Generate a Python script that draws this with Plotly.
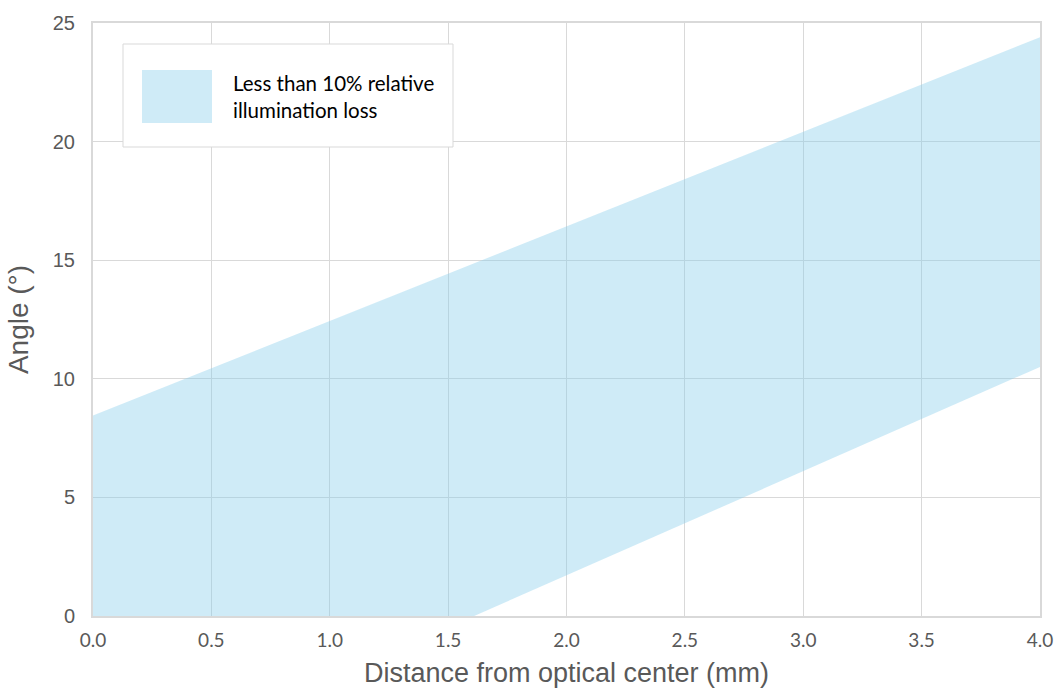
import plotly.graph_objects as go

# Band boundary (distance mm, angle deg), traced as a closed polygon
band_x = [0.0, 0.0, 4.0, 4.0, 1.61]
band_y = [0.0, 8.45, 24.4, 10.5, 0.0]
legend_label = "Less than 10% relative<br>illumination loss"

x_ticks = [0.0, 0.5, 1.0, 1.5, 2.0, 2.5, 3.0, 3.5, 4.0]
y_ticks = [0, 5, 10, 15, 20, 25]

fill_color = "rgba(135,206,235,0.4)"
grid_color = "#d9d9d9"

W, H = 1057, 688
pl, pt, pr, pb = 93, 23, 1057 - 1040, 688 - 616

fig = go.Figure()
fig.add_trace(go.Scatter(
    x=band_x, y=band_y, fill="toself", fillcolor=fill_color,
    mode="lines", line=dict(width=0), showlegend=False, hoverinfo="skip",
))

fig.update_layout(
    width=W, height=H,
    margin=dict(l=pl, r=pr, t=pt, b=pb),
    paper_bgcolor="white", plot_bgcolor="white",
    showlegend=False,
    xaxis=dict(
        range=[0, 4], tickvals=x_ticks, ticktext=[f"{v:.1f}" for v in x_ticks],
        showgrid=True, gridcolor=grid_color, gridwidth=1,
        showline=True, linecolor=grid_color, linewidth=2, mirror=True,
        zeroline=False, ticks="", ticklabelstandoff=6, automargin=False,
        tickfont=dict(family="Lato, Open Sans, sans-serif", size=19, color="#595959"),
        title=dict(text="Distance from optical center (mm)", standoff=33,
                   font=dict(family="Liberation Sans, Arial, sans-serif", size=27, color="#595959")),
    ),
    yaxis=dict(
        range=[0, 25], tickvals=y_ticks,
        showgrid=True, gridcolor=grid_color, gridwidth=1,
        showline=True, linecolor=grid_color, linewidth=2, mirror=True,
        zeroline=False, ticks="", ticklabelstandoff=12, automargin=False,
        tickfont=dict(family="Liberation Sans, Arial, sans-serif", size=20, color="#595959"),
        title=dict(text="Angle (°)", standoff=16,
                   font=dict(family="Liberation Sans, Arial, sans-serif", size=28, color="#595959")),
    ),
)

# Custom legend box (pixel -> paper conversions)
pw, ph = W - pl - pr, H - pt - pb
def px(xs):
    return (xs - pl) / pw
def py(ys):
    return (H - pb - ys) / ph

fig.add_shape(type="rect", xref="paper", yref="paper",
              x0=px(123), x1=px(453), y0=py(147), y1=py(44),
              fillcolor="white", line=dict(color="#d9d9d9", width=1), layer="above")
fig.add_shape(type="rect", xref="paper", yref="paper",
              x0=px(142), x1=px(212), y0=py(123), y1=py(70),
              fillcolor=fill_color, line=dict(width=0), layer="above")
fig.add_annotation(xref="paper", yref="paper", x=px(231), y=py(96.5),
                   xanchor="left", yanchor="middle", align="left",
                   text=legend_label, showarrow=False,
                   font=dict(family="Lato, Open Sans, sans-serif", size=20.5, color="#000000"))

fig.write_html("out.html", config={"displayModeBar": False},
               post_script="document.body.style.margin='0';document.body.style.overflow='hidden';")
